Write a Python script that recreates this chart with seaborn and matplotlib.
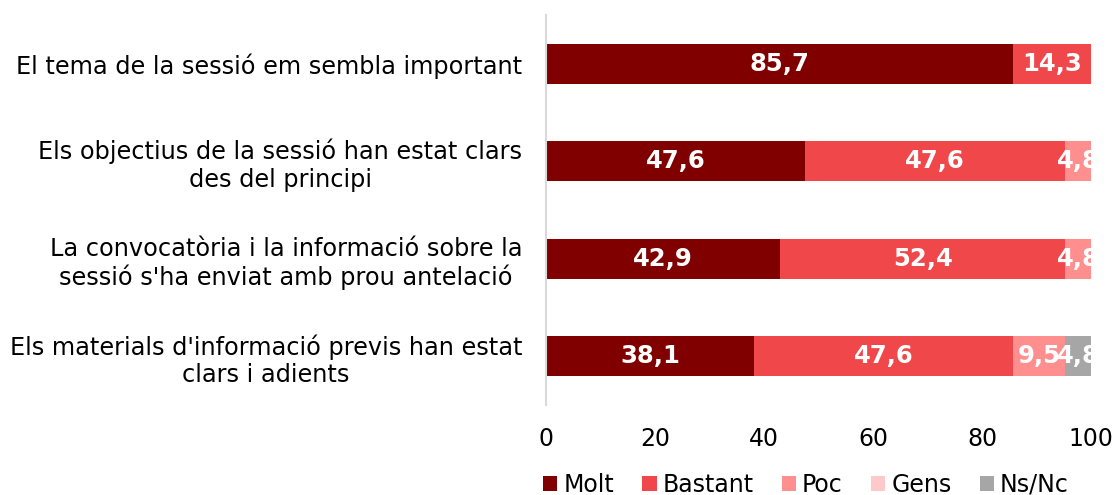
import matplotlib.pyplot as plt
import numpy as np
import pandas as pd
import seaborn as sns

categories = [
    "El tema de la sessió em sembla important",
    "Els objectius de la sessió han estat clars\ndes del principi",
    "La convocatòria i la informació sobre la\nsessió s'ha enviat amb prou antelació",
    "Els materials d'informació previs han estat\nclars i adients",
]
series = ["Molt", "Bastant", "Poc", "Gens", "Ns/Nc"]
molt = [85.7, 47.6, 42.9, 38.1]
bastant = [14.3, 47.6, 52.4, 47.6]
poc = [0, 4.8, 4.8, 9.5]
gens = [0, 0, 0, 0]
nsnc = [0, 0, 0, 4.8]
colors = ["#800000", "#F0474B", "#FF8F8F", "#FFC9C9", "#A6A6A6"]

sns.set_style("white")
plt.rcParams["font.family"] = ["DejaVu Sans"]
plt.rcParams["text.color"] = "black"
plt.rcParams["xtick.color"] = "black"
plt.rcParams["ytick.color"] = "black"

values = np.array([molt, bastant, poc, gens, nsnc])
cum = values.cumsum(axis=0)

fig = plt.figure(figsize=(11.16, 4.95), dpi=100)
ax = fig.add_axes([546 / 1116, 1 - 405 / 495, 545 / 1116, 390 / 495])

# stacked bars: draw cumulative totals from back to front
for i in range(len(series) - 1, -1, -1):
    df = pd.DataFrame({"cat": categories, "val": cum[i]})
    sns.barplot(data=df, x="val", y="cat", orient="h", color=colors[i],
                width=0.41, ax=ax, saturation=1, label=series[i], linewidth=0)

for i in range(len(series)):
    for j in range(len(categories)):
        v = values[i, j]
        if v > 0:
            x = cum[i, j] - v / 2
            ax.text(x, j, f"{v:.1f}".replace(".", ","), ha="center", va="center",
                    color="white", fontweight="bold", fontsize=17.5)

ax.set_xlim(0, 100)
ax.set_ylim(3.5, -0.5)
ax.set_xticks([0, 20, 40, 60, 80, 100])
ax.set_xlabel("")
ax.set_ylabel("")
ax.tick_params(axis="x", labelsize=17, pad=16, length=0)
ax.tick_params(axis="y", labelsize=17.3, pad=17, length=0)
for lbl in ax.get_yticklabels():
    lbl.set_multialignment("center")
for s in ["top", "right", "bottom"]:
    ax.spines[s].set_visible(False)
ax.spines["left"].set_color("#D9D9D9")
ax.spines["left"].set_linewidth(1.5)

handles, labels = ax.get_legend_handles_labels()
if ax.get_legend() is not None:
    ax.get_legend().remove()
order = [labels.index(s) for s in series]
fig.legend([handles[k] for k in order], series, loc="center",
           bbox_to_anchor=(806 / 1116, 1 - 485 / 495), ncol=5, frameon=False, fontsize=17,
           handlelength=0.6, handleheight=0.6, handletextpad=0.25, columnspacing=1.2,
           borderaxespad=0, borderpad=0)

fig.savefig("out.png", dpi=100)
